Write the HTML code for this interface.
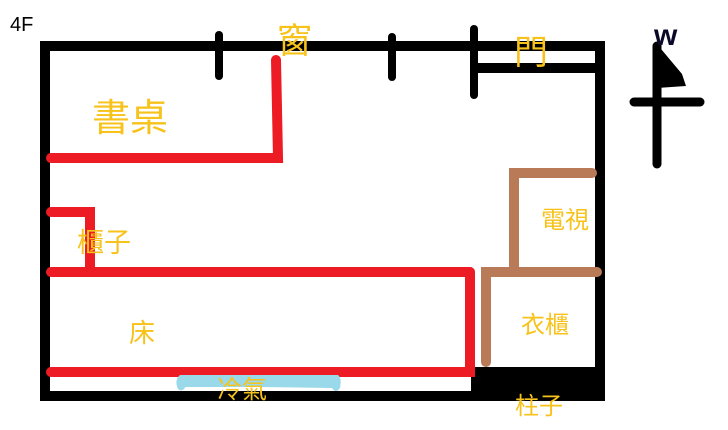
<!DOCTYPE html>
<html><head><meta charset="utf-8"><style>
html,body{margin:0;padding:0;background:#fff;width:728px;height:430px;overflow:hidden}
svg{display:block}
text{font-family:"Liberation Sans","Noto Sans CJK TC",sans-serif;fill:#f7c21a}
</style></head><body>
<svg width="728" height="430" viewBox="0 0 728 430" xmlns="http://www.w3.org/2000/svg">
<!-- outer walls -->
<rect x="45" y="46" width="555" height="350" fill="none" stroke="#000" stroke-width="10"/>
<!-- door inner line -->
<line x1="474" y1="68" x2="600" y2="68" stroke="#000" stroke-width="10"/>
<!-- ticks -->
<g stroke="#000" stroke-width="8" stroke-linecap="round">
<line x1="219" y1="35" x2="219" y2="76"/>
<line x1="392" y1="37" x2="392" y2="77"/>
<line x1="474" y1="29" x2="474" y2="95"/>
</g>
<!-- pillar block -->
<rect x="471" y="367" width="134" height="34" fill="#000"/>
<!-- red furniture -->
<g stroke="#ed1c24" stroke-width="10" stroke-linecap="round" fill="none">
<polyline points="51,158 278,158 276,60"/>
<polyline points="51,212 90,212 90,270"/>
<line x1="51" y1="272" x2="470" y2="272"/>
<polyline points="470,272 470,372 51,372"/>
</g>
<!-- brown -->
<g stroke="#b97a57" stroke-width="10" stroke-linecap="round" fill="none">
<polyline points="514,270 514,173 592,173"/>
<polyline points="486,362 486,272 597,272"/>
</g>
<!-- AC -->
<path d="M180,375 L338,375 Q342,378 340,388 Q336,394 332,388 L186,386 Q182,393 178,389 Q174,380 180,375Z" fill="#99d9ea"/>
<rect x="180" y="375" width="158" height="12" fill="#99d9ea"/>
<!-- compass -->
<g stroke="#000" stroke-width="9" stroke-linecap="round">
<line x1="657" y1="46" x2="657" y2="164"/>
<line x1="634" y1="102" x2="700" y2="102"/>
</g>
<polygon points="656,43 682,74 686,86 657,88" fill="#000"/>
<text x="654" y="45" style="fill:#0a0a28;font-weight:bold;font-size:30px">w</text>
<!-- labels -->
<text x="10" y="31" style="fill:#000;font-size:20px">4F</text>
<text x="277" y="53" style="font-size:35px">窗</text>
<text x="92" y="131" style="font-size:38px">書桌</text>
<text x="514" y="64" style="font-size:34px">門</text>
<text x="541" y="228" style="font-size:24px">電視</text>
<text x="77" y="252" style="font-size:27px">櫃子</text>
<text x="129" y="342" style="font-size:26px">床</text>
<text x="521" y="333" style="font-size:24px">衣櫃</text>
<text x="217" y="398" style="font-size:25px">冷氣</text>
<text x="515" y="414" style="font-size:24px">柱子</text>
</svg>
</body></html>
